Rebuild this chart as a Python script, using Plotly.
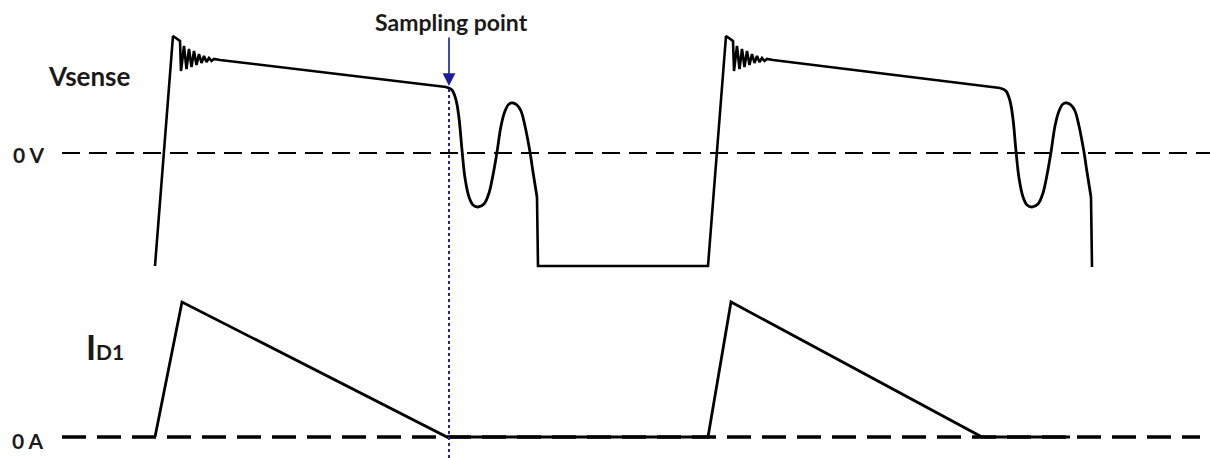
import plotly.graph_objects as go

# time axis is in arbitrary units, Vsense / ID1 relative to their 0 lines

# Vsense, straight parts (None breaks the trace between parts)
vs_t_lin = [155, 173, 180, 181, 184, 186.5, 189, 191.5, 194, 196.5, 199, 201.5, 204, 206.5, 209, 211.5, 214, 220, 446,
            None,
            537, 538, 708, 726, 733, 734, 737, 739.5, 742, 744.5, 747, 749.5, 752, 754.5, 757, 759.5, 762, 764.5, 767, 773, 1000,
            None,
            1091, 1092]
vs_v_lin = [-113, 117, 112, 82, 107, 84, 104, 86, 102, 88, 99, 90, 97, 91, 95, 92, 94, 93, 66,
            None,
            -44, -113, -113, 117, 112, 82, 107, 84, 104, 86, 102, 88, 99, 90, 97, 91, 95, 92, 94, 93, 65,
            None,
            -44, -114]

# Vsense, ringing after the knee (drawn smooth)
vs_t_curve = [446, 452, 456, 459, 462, 465, 469, 473, 478, 484, 489, 493, 497, 501, 505, 509, 513, 517, 521, 525, 528, 530, 533, 537,
              None,
              1000, 1006, 1010, 1013, 1016, 1019, 1023, 1027, 1032, 1038, 1043, 1047, 1051, 1055, 1059, 1063, 1067, 1071, 1075, 1079, 1082, 1084, 1087, 1091]
vs_v_curve = [66, 63, 53, 35, 3, -25, -44, -52, -54, -51, -40, -22, 1, 27, 42, 49, 50, 48, 42, 27, 12, 1, -19, -44,
              None,
              65, 62, 52, 34, 2, -25, -44, -52, -54, -51, -40, -22, 1, 27, 42, 49, 50, 48, 42, 27, 12, 1, -19, -44]

# diode current ID1
id_t = [155, 182, 447, 708, 731, 982, 1070]
id_i = [0, 135, 0, 0, 135, 0, 0]

sample_t = 449
sample_v = 67

W, H = 1210, 458


def px(x):
    return x / W


def py(y):
    return 1 - y / H


fig = go.Figure()
line = dict(color='black', width=2.8)
fig.add_trace(go.Scatter(x=vs_t_lin, y=vs_v_lin, mode='lines', line=dict(color='black', width=2.6), yaxis='y'))
fig.add_trace(go.Scatter(x=vs_t_curve, y=vs_v_curve, mode='lines',
                         line=dict(color='black', width=2.8, shape='spline', smoothing=1), yaxis='y'))
fig.add_trace(go.Scatter(x=id_t, y=id_i, mode='lines', line=line, yaxis='y2'))

# zero lines
fig.add_shape(type='line', xref='x', yref='y', x0=62, x1=1210, y0=0, y1=0,
              line=dict(color='black', width=2, dash='18px,9px'), layer='below')
fig.add_shape(type='line', xref='x', yref='y2', x0=62, x1=1200, y0=0, y1=0,
              line=dict(color='black', width=3.5, dash='24px,11px'), layer='below')

# sampling point marker
fig.add_shape(type='line', xref='x', yref='paper', x0=sample_t, x1=sample_t, y0=0, y1=py(87),
              line=dict(color='#2323a0', width=2, dash='dot'))
fig.add_annotation(x=sample_t, y=sample_v, xref='x', yref='y', ax=0, ay=-50, text='',
                   showarrow=True, arrowhead=2, arrowsize=1.6, arrowwidth=1.6, arrowcolor='#1c1ca0',
                   standoff=0)

font = dict(family='Lato, Open Sans, sans-serif', color='#1a1a1a')
texts = [
    ('<b>Sampling point</b>', 451, 22, 23),
    ('<b>Vsense</b>', 89, 76, 26),
    ('<b>0 V</b>', 28, 154, 21),
    ('<b>0 A</b>', 28, 440, 21),
]
for txt, x, y, s in texts:
    fig.add_annotation(x=px(x), y=py(y), xref='paper', yref='paper', text=txt, showarrow=False,
                       xanchor='center', yanchor='middle', font=dict(font, size=s))
fig.add_annotation(x=px(84), y=py(346), xref='paper', yref='paper', showarrow=False,
                   text='<b>I<span style="font-size:21px">D1</span></b>',
                   xanchor='left', yanchor='middle', font=dict(font, size=34))

fig.update_layout(
    width=W, height=H,
    margin=dict(l=0, r=0, t=0, b=0),
    paper_bgcolor='white', plot_bgcolor='white',
    showlegend=False,
    xaxis=dict(range=[0, W], visible=False, fixedrange=True),
    yaxis=dict(range=[153 - H, 153], visible=False, fixedrange=True),
    yaxis2=dict(range=[437 - H, 437], visible=False, overlaying='y', fixedrange=True),
)

fig.write_html("out.html", config={'displayModeBar': False},
               post_script="document.body.style.margin = '0';")
